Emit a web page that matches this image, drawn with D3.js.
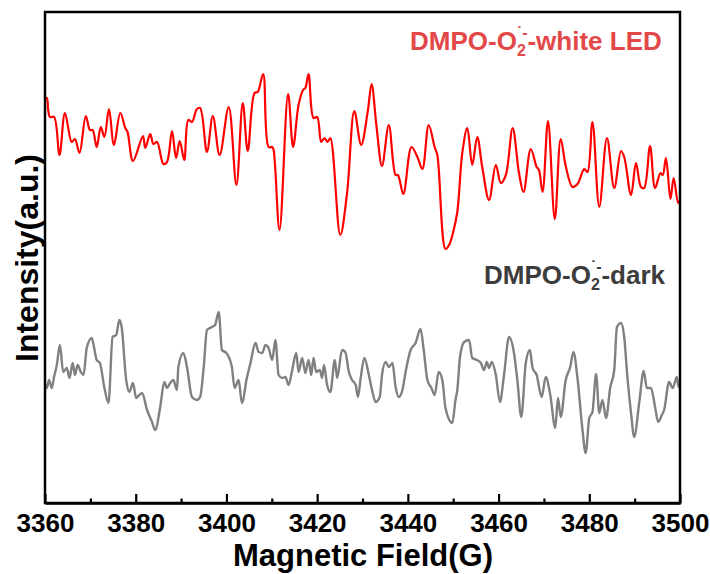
<!DOCTYPE html>
<html>
<head>
<meta charset="utf-8">
<script src="https://cdn.jsdelivr.net/npm/d3@7/dist/d3.min.js"></script>
<style>
  html, body { margin: 0; padding: 0; background: #fff; }
  svg { display: block; }
  text { font-family: "Liberation Sans", Arial, Helvetica, sans-serif; font-weight: bold; }
</style>
</head>
<body>
<div id="chart"></div>
<script>
// ---------------- data ----------------
const xTicksMajor = [3360, 3380, 3400, 3420, 3440, 3460, 3480, 3500];
const xTicksMinor = [3370, 3390, 3410, 3430, 3450, 3470, 3490];
const xTitle = "Magnetic Field(G)";
const yTitle = "Intensity(a.u.)";
const seriesNames = ["white LED", "dark"];

// DMPO-O2- under white LED (field in G, intensity in a.u.)
const fieldLED = [3360.0,3360.4,3360.7,3361.1,3362.0,3363.2,3364.4,3365.9,3366.6,3367.6,3369.0,3369.9,3370.5,3371.4,3372.3,3373.1,3374.1,3375.2,3376.6,3377.7,3378.2,3379.4,3381.6,3382.1,3383.2,3383.9,3384.7,3386.1,3386.9,3388.0,3388.9,3389.7,3390.7,3391.6,3392.4,3393.5,3394.2,3395.7,3397.0,3398.5,3400.5,3402.2,3403.6,3404.7,3406.2,3406.9,3408.1,3409.3,3410.1,3410.4,3411.7,3413.6,3414.7,3415.9,3416.9,3417.4,3418.1,3419.2,3420.0,3420.9,3421.6,3422.3,3422.9,3425.1,3426.6,3428.2,3429.7,3431.2,3432.0,3433.1,3434.3,3435.8,3437.3,3437.8,3439.0,3440.8,3442.1,3443.2,3444.6,3445.9,3446.5,3448.3,3449.1,3450.0,3450.9,3452.0,3453.1,3454.2,3455.3,3456.4,3457.9,3459.4,3460.5,3461.6,3463.1,3464.5,3465.5,3467.1,3468.4,3468.9,3469.7,3470.9,3472.4,3473.7,3474.8,3476.3,3477.4,3478.9,3479.6,3480.7,3482.2,3483.9,3485.5,3487.0,3487.7,3489.2,3490.3,3491.4,3492.1,3493.4,3494.5,3495.7,3496.2,3496.9,3497.9,3498.6,3499.6,3500.0];
const intensityLED = [404,404,392,385,385,347,389,360,363,349,386,372,372,355,375,365,393,357,389,374,370,341,366,354,368,358,360,338,340,371,344,361,342,382,380,393,394,350,386,347,395,317,399,351,409,410,428,355,355,352,272,408,355,397,412,414,428,384,385,360,364,360,364,267,309,391,357,392,418,375,336,377,327,327,308,355,345,333,377,355,347,253,257,270,290,349,374,337,365,335,302,337,319,327,374,329,310,353,335,332,310,381,283,363,336,315,318,333,330,380,295,364,314,351,345,307,339,315,314,356,314,329,327,344,303,324,299,302];

// DMPO-O2- in the dark
const fieldDark = [3360.0,3360.4,3360.9,3361.5,3362.0,3362.6,3363.3,3364.0,3364.8,3365.4,3366.1,3366.6,3367.2,3367.9,3368.5,3369.2,3370.3,3370.8,3371.4,3372.1,3373.1,3374.0,3374.9,3375.7,3376.4,3376.9,3377.9,3378.6,3379.4,3380.1,3380.8,3381.4,3382.5,3383.6,3384.3,3385.4,3386.3,3386.9,3387.6,3388.3,3389.1,3389.4,3390.5,3391.3,3392.4,3393.5,3394.2,3395.0,3395.7,3396.8,3397.5,3398.3,3399.0,3400.0,3401.2,3401.8,3402.7,3403.4,3404.5,3405.3,3406.4,3407.1,3407.9,3408.6,3409.3,3410.1,3410.8,3411.5,3412.3,3413.0,3413.7,3414.5,3415.4,3415.9,3416.7,3417.4,3418.1,3418.7,3419.2,3419.8,3420.6,3421.1,3421.5,3422.2,3422.9,3423.9,3424.4,3425.5,3426.2,3427.0,3427.7,3428.5,3429.0,3429.6,3430.4,3431.4,3432.1,3432.9,3433.8,3434.3,3435.1,3435.8,3436.6,3437.3,3438.0,3438.8,3439.5,3440.6,3441.7,3442.8,3443.5,3444.3,3445.2,3445.9,3446.8,3447.6,3448.3,3449.8,3450.5,3450.9,3451.5,3452.4,3453.5,3454.2,3455.2,3456.1,3456.8,3457.4,3457.9,3458.5,3459.4,3460.3,3461.2,3462.3,3463.4,3464.2,3465.0,3466.0,3466.9,3467.5,3468.4,3469.5,3470.4,3471.4,3472.5,3473.1,3473.7,3474.8,3475.8,3476.5,3477.4,3478.5,3479.2,3480.0,3480.7,3481.5,3482.2,3482.9,3483.7,3484.6,3485.5,3486.1,3487.0,3487.7,3488.4,3489.2,3489.9,3491.0,3492.0,3492.7,3493.6,3494.5,3495.2,3496.0,3496.5,3497.6,3498.4,3499.3,3499.7,3500.0];
const intensityDark = [118,114,122,114,125,137,157,130,134,124,139,127,137,130,127,154,164,155,142,139,114,99,165,167,182,175,122,110,119,104,107,109,92,80,72,95,120,114,119,122,112,135,149,135,105,102,105,135,172,175,177,190,152,149,135,114,122,99,124,139,159,150,149,157,154,142,162,127,124,125,117,132,149,130,144,129,142,127,144,130,132,124,137,117,110,142,124,152,150,130,122,117,105,124,144,127,112,100,105,127,140,135,139,115,105,112,130,152,159,173,152,122,114,107,130,122,94,79,102,112,145,160,162,144,142,139,132,140,134,140,127,100,127,165,149,119,85,139,152,134,127,105,125,107,74,104,85,122,135,150,124,72,49,84,90,128,89,102,84,114,132,175,179,165,125,89,65,99,131,114,114,95,80,87,92,120,114,125,115,118];

// ---------------- chart ----------------
const W = 710, H = 574;
const svg = d3.select("#chart").append("svg").attr("width", W).attr("height", H);

const x = d3.scaleLinear().domain([3360, 3500]).range([45, 680]);
const y = d3.scaleLinear().domain([0, 490]).range([502, 12]);

const ledData = fieldLED.map((f, i) => ({ f, v: intensityLED[i] }));
const darkData = fieldDark.map((f, i) => ({ f, v: intensityDark[i] }));

// lines
svg.append("path")
  .datum(darkData)
  .attr("fill", "none")
  .attr("stroke", "#808080")
  .attr("stroke-width", 2.4)
  .attr("stroke-linejoin", "round")
  .attr("d", d3.line().x(d => x(d.f)).y(d => y(d.v)).curve(d3.curveMonotoneX));

svg.append("path")
  .datum(ledData)
  .attr("fill", "none")
  .attr("stroke", "#ff0000")
  .attr("stroke-width", 2.2)
  .attr("stroke-linejoin", "round")
  .attr("d", d3.line().x(d => x(d.f)).y(d => y(d.v)).curve(d3.curveCatmullRom.alpha(0.5)));

// frame
svg.append("rect")
  .attr("x", 45).attr("y", 12)
  .attr("width", 635).attr("height", 491)
  .attr("fill", "none").attr("stroke", "#000").attr("stroke-width", 2.5);

// x axis (major + minor ticks, pointing inward)
const axisMajor = d3.axisBottom(x).tickValues(xTicksMajor).tickSizeInner(-9).tickSizeOuter(0)
  .tickPadding(11).tickFormat(d3.format("d"));
const gx = svg.append("g").attr("transform", "translate(0,503)").call(axisMajor);
gx.select(".domain").attr("stroke", "#000").attr("stroke-width", 2.5);
gx.selectAll(".tick line").attr("stroke", "#000").attr("stroke-width", 2.2);
gx.selectAll(".tick text").attr("font-size", 26).attr("font-weight", "bold")
  .attr("font-family", "Liberation Sans, Arial, sans-serif").attr("fill", "#000");

const axisMinor = d3.axisBottom(x).tickValues(xTicksMinor).tickSizeInner(-4.5).tickSizeOuter(0).tickFormat("");
const gm = svg.append("g").attr("transform", "translate(0,503)").call(axisMinor);
gm.select(".domain").remove();
gm.selectAll(".tick line").attr("stroke", "#000").attr("stroke-width", 2.2);

// axis titles
svg.append("text")
  .attr("x", 363).attr("y", 566)
  .attr("text-anchor", "middle")
  .attr("font-size", 31)
  .attr("fill", "#000")
  .text(xTitle);

svg.append("text")
  .attr("transform", "translate(38,258) rotate(-90)")
  .attr("text-anchor", "middle")
  .attr("font-size", 32)
  .attr("fill", "#000")
  .text(yTitle);

// series labels
function speciesLabel(xPos, yPos, suffix, color) {
  const t = svg.append("text").attr("x", xPos).attr("y", yPos)
    .attr("font-size", 26).attr("fill", color);
  t.append("tspan").text("DMPO-O");
  t.append("tspan").attr("font-size", 16).attr("dy", 6).text("2");
  t.append("tspan").attr("font-size", 16).attr("dx", -9).attr("dy", -18).text("˙-");
  t.append("tspan").attr("dy", 12).text("-" + suffix);
  return t;
}
speciesLabel(410, 50, seriesNames[0], "#e34848");
speciesLabel(484, 284, seriesNames[1], "#3c3c3c");
</script>
</body>
</html>
